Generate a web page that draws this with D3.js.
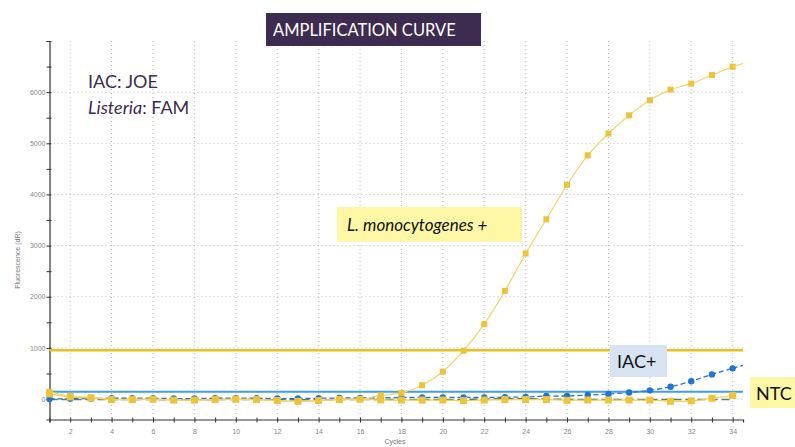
<!DOCTYPE html>
<html>
<head>
<meta charset="utf-8">
<script src="https://cdn.jsdelivr.net/npm/d3@7"></script>
<style>
body { margin: 0; background: #fff; }
svg { display: block; }
</style>
</head>
<body>
<svg id="chart" width="795" height="447"></svg>
<script>
var cycles = d3.range(1, 35);
var lmono = [143, 60, 35, -5, -5, 0, -20, -20, -5, 0, -5, -30, -50, -30, -5, 0, 70, 120, 270, 535, 945, 1465, 2115, 2845, 3515, 4190, 4765, 5190, 5547, 5840, 6049, 6166, 6334, 6498];
var ntc = [100, 40, 20, -10, -10, -5, -20, -20, -10, -5, -10, -30, -45, -30, -10, -5, -15, -20, -20, -20, -30, -20, -10, -10, -10, -25, -20, -20, -20, -20, -45, -35, 15, 70];
var iacPos = [0, 5, 10, 15, 15, 15, 10, 10, 15, 15, 15, 10, 10, 15, 20, 20, 25, 30, 33, 33, 33, 33, 35, 40, 58, 60, 78, 98, 127, 170, 241, 348, 482, 600];
var iacNtc = [-5, -10, -10, -10, -10, -10, -15, -15, -10, -10, -10, -15, -15, -15, -10, -10, -10, -10, -10, -10, -5, 0, 5, 5, 0, -5, -10, -10, -10, -10, -10, -10, -10, -10];
var yTicks = [0, 1000, 2000, 3000, 4000, 5000, 6000];
var xTicks = d3.range(2, 35, 2);
var thresholdFam = 955;
var thresholdJoe = 143;

var svg = d3.select("#chart");
var x = d3.scaleLinear().domain([1, 34.5]).range([49.5, 743]);
var y = d3.scaleLinear().domain([-400, 7000]).range([419.5, 41]);

// grid
svg.append("g").selectAll("line")
	.data(xTicks)
	.enter()
	.append("line")
	.attr("x1", function (d) { return x(d); })
	.attr("x2", function (d) { return x(d); })
	.attr("y1", y(7000))
	.attr("y2", y(-400))
	.attr("stroke", "#b8b8b8")
	.attr("stroke-dasharray", "1,3");
svg.append("g").selectAll("line")
	.data(yTicks)
	.enter()
	.append("line")
	.attr("x1", x(1))
	.attr("x2", x(34.5))
	.attr("y1", function (d) { return y(d); })
	.attr("y2", function (d) { return y(d); })
	.attr("stroke", "#b8b8b8")
	.attr("stroke-dasharray", "1,3");

// axes
var yAxis = d3.axisLeft(y).tickValues(d3.range(0, 7001, 500)).tickSize(3)
	.tickFormat(function (d) { return d % 1000 === 0 && d < 7000 ? d : ""; });
var gy = svg.append("g")
	.attr("transform", "translate(" + x(1) + ",0)")
	.call(yAxis);
var xAxis = d3.axisBottom(x).tickValues(cycles).tickSize(3)
	.tickFormat(function (d) { return d % 2 === 0 ? d : ""; });
var gx = svg.append("g")
	.attr("transform", "translate(0," + y(-400) + ")")
	.call(xAxis);
[gx, gy].forEach(function (g) {
	g.select(".domain").attr("stroke", "#333").attr("stroke-width", 1.2);
	g.selectAll(".tick line").attr("stroke", "#333");
	g.selectAll(".tick text").attr("fill", "#888").attr("font-size", 7).attr("font-family", "Liberation Sans");
});
gy.selectAll(".tick line").attr("x1", 2);
gx.selectAll(".tick line").attr("y1", -2);
gx.selectAll(".tick text").attr("dy", "1.2em");
gy.selectAll(".tick text").attr("x", -4);

svg.append("text")
	.attr("x", 395).attr("y", 444)
	.attr("text-anchor", "middle")
	.attr("font-size", 7).attr("font-family", "Liberation Sans").attr("fill", "#777")
	.text("Cycles");
svg.append("text")
	.attr("transform", "translate(20,260) rotate(-90)")
	.attr("text-anchor", "middle")
	.attr("font-size", 7).attr("font-family", "Liberation Sans").attr("fill", "#777")
	.text("Fluorescence (dR)");

// thresholds
svg.append("line")
	.attr("x1", x(1)).attr("x2", x(34.5))
	.attr("y1", y(thresholdFam)).attr("y2", y(thresholdFam))
	.attr("stroke", "#e8c21c").attr("stroke-width", 2.5);
svg.append("line")
	.attr("x1", x(1)).attr("x2", x(34.5))
	.attr("y1", y(thresholdJoe)).attr("y2", y(thresholdJoe))
	.attr("stroke", "#3f9fe0").attr("stroke-width", 2);

var line = d3.line()
	.x(function (d, i) { return x(cycles[i]); })
	.y(function (d) { return y(d); })
	.curve(d3.curveMonotoneX);

svg.append("path")
	.datum(iacNtc)
	.attr("d", line)
	.attr("fill", "none")
	.attr("stroke", "#5f7f62")
	.attr("stroke-width", 1.5)
	.attr("stroke-dasharray", "8,4");

svg.append("path")
	.datum(iacPos)
	.attr("d", line)
	.attr("fill", "none")
	.attr("stroke", "#1f74d6")
	.attr("stroke-width", 1.3)
	.attr("stroke-dasharray", "5,3");
svg.append("g").selectAll("circle")
	.data(iacPos)
	.enter()
	.append("circle")
	.attr("cx", function (d, i) { return x(cycles[i]); })
	.attr("cy", function (d) { return y(d); })
	.attr("r", 3.2)
	.attr("fill", "#1f74d6");

svg.append("path")
	.datum(ntc)
	.attr("d", line)
	.attr("fill", "none")
	.attr("stroke", "#f3cf4a")
	.attr("stroke-width", 1.2);
svg.append("g").selectAll("rect")
	.data(ntc)
	.enter()
	.append("rect")
	.attr("x", function (d, i) { return x(cycles[i]) - 3.5; })
	.attr("y", function (d) { return y(d) - 3.5; })
	.attr("width", 7).attr("height", 7)
	.attr("fill", "#efc43a");

svg.append("path")
	.datum(lmono)
	.attr("d", line)
	.attr("fill", "none")
	.attr("stroke", "#f5d46a")
	.attr("stroke-width", 1.2);
svg.append("g").selectAll("rect")
	.data(lmono)
	.enter()
	.append("rect")
	.attr("x", function (d, i) { return x(cycles[i]) - 3; })
	.attr("y", function (d) { return y(d) - 3; })
	.attr("width", 6).attr("height", 6)
	.attr("fill", "#eec23a");

// tail past last cycle
svg.append("line")
	.attr("x1", x(34)).attr("y1", y(6498)).attr("x2", x(34.5)).attr("y2", y(6560))
	.attr("stroke", "#f5d46a").attr("stroke-width", 1.2);
svg.append("line")
	.attr("x1", x(34)).attr("y1", y(600)).attr("x2", x(34.5)).attr("y2", y(660))
	.attr("stroke", "#1f74d6").attr("stroke-width", 1.3).attr("stroke-dasharray", "5,3");

// annotations
var font = "Lato, 'Open Sans', sans-serif";
svg.append("rect").attr("x", 266).attr("y", 13).attr("width", 215).attr("height", 33).attr("fill", "#3e2b50");
svg.append("text").attr("x", 273).attr("y", 36).attr("font-size", 16.5).attr("font-family", font)
	.attr("fill", "#fff").text("AMPLIFICATION CURVE");

svg.append("text").attr("x", 88).attr("y", 88).attr("font-size", 18).attr("font-family", font)
	.attr("fill", "#3e2b50").text("IAC: JOE");
var t2 = svg.append("text").attr("x", 88).attr("y", 114).attr("font-size", 18).attr("font-family", font)
	.attr("fill", "#3e2b50");
t2.append("tspan").attr("font-style", "italic").text("Listeria");
t2.append("tspan").text(": FAM");

svg.append("rect").attr("x", 337).attr("y", 207).attr("width", 185).attr("height", 35).attr("fill", "#fdf7a6");
svg.append("text").attr("x", 347).attr("y", 231).attr("font-size", 17).attr("font-family", font)
	.attr("font-style", "italic").attr("fill", "#111").text("L. monocytogenes +");

svg.append("rect").attr("x", 610).attr("y", 345).attr("width", 57).attr("height", 32).attr("fill", "#d7e3f1");
svg.append("text").attr("x", 617).attr("y", 368).attr("font-size", 18).attr("font-family", font)
	.attr("fill", "#111").text("IAC+");

svg.append("rect").attr("x", 750).attr("y", 377).attr("width", 45).attr("height", 31).attr("fill", "#fdf7a6");
svg.append("text").attr("x", 756).attr("y", 400).attr("font-size", 18).attr("font-family", font)
	.attr("fill", "#111").text("NTC");
</script>
</body>
</html>
